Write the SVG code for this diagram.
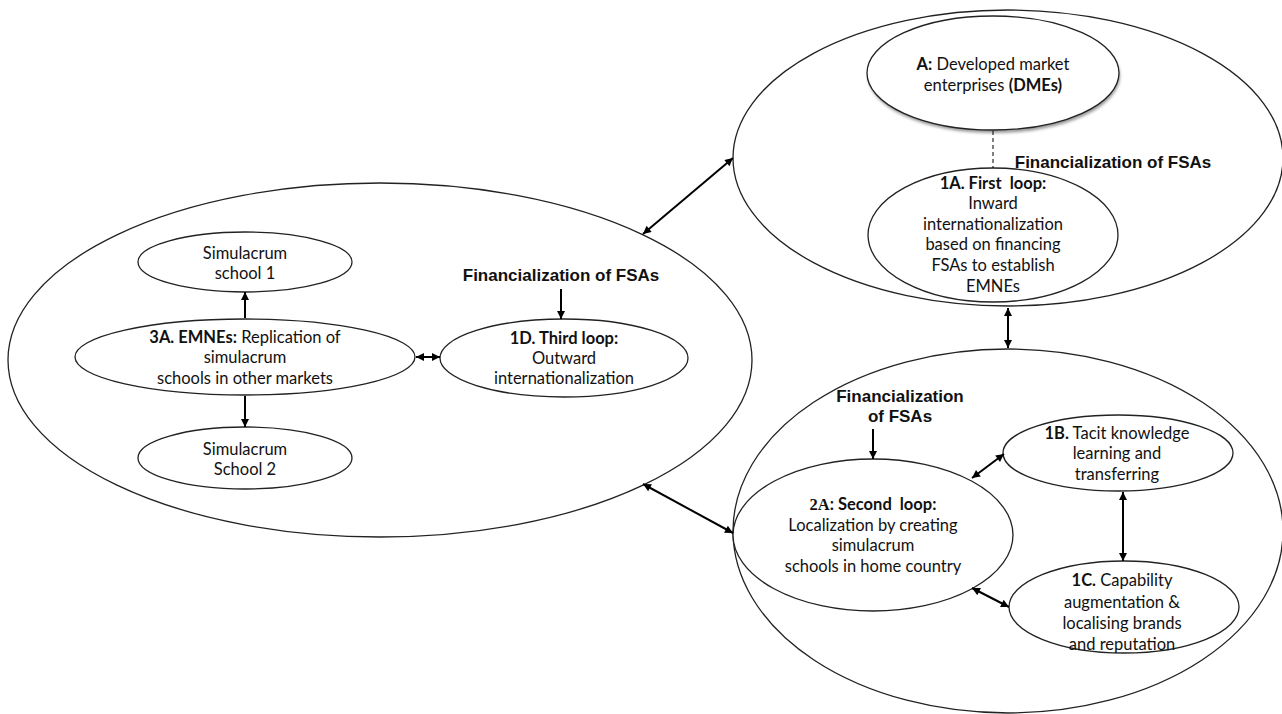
<svg xmlns="http://www.w3.org/2000/svg" width="1282" height="714" viewBox="0 0 1282 714">
<defs>
<marker id="ah" viewBox="0 0 10 10" refX="10" refY="5" markerWidth="9" markerHeight="8" markerUnits="userSpaceOnUse" orient="auto-start-reverse">
<path d="M0,0 L10,5 L0,10 z" fill="#000"/>
</marker>
<filter id="sh" x="-20%" y="-20%" width="140%" height="150%">
<feGaussianBlur stdDeviation="1.5"/>
</filter>
</defs>
<style>
.big{fill:none;stroke:#222;stroke-width:1.3}
.nd{fill:#fff;stroke:#222;stroke-width:1.3}
.t{font-family:Lato,"Open Sans","Liberation Sans",sans-serif;font-size:16.5px;fill:#111;text-anchor:middle}
.b{font-weight:bold}
.fin{font-family:"Liberation Sans",Arial,sans-serif;font-weight:bold;font-size:17px;fill:#111;text-anchor:middle}
.c{stroke:#000;stroke-width:2;fill:none}
.ca{stroke:#000;stroke-width:2;fill:none;marker-end:url(#ah)}
.cb{stroke:#000;stroke-width:2;fill:none;marker-end:url(#ah);marker-start:url(#ah)}
</style>
<rect width="1282" height="714" fill="#fff"/>

<g id="region-left">
<ellipse class="big" cx="380" cy="360" rx="372" ry="177"/>
</g>
<g id="region-top">
<ellipse class="big" cx="1008" cy="158" rx="275" ry="148"/>
<text class="fin" x="1113" y="168">Financialization of FSAs</text>
</g>
<g id="region-bottom">
<ellipse class="big" cx="1008" cy="531" rx="275" ry="182"/>
<text class="fin" x="900" y="402">Financialization</text>
<text class="fin" x="900" y="422">of FSAs</text>
</g>
<g id="label-left-fin">
<text class="fin" x="561" y="281">Financialization of FSAs</text>
</g>

<g id="node-A">
<ellipse cx="994" cy="76" rx="126" ry="57" fill="#999" filter="url(#sh)"/>
<ellipse class="nd" cx="993" cy="73" rx="126" ry="57"/>
<text class="t" x="993" y="70"><tspan class="b">A:</tspan>  Developed market</text>
<text class="t" x="993" y="91">enterprises <tspan class="b">(DMEs)</tspan></text>
</g>

<g id="node-1A">
<ellipse class="nd" cx="993" cy="235" rx="125" ry="67"/>
<text class="t b" x="993" y="189" style="white-space:pre">1A. First  loop:</text>
<text class="t" x="993" y="209">Inward</text>
<text class="t" x="993" y="230">internationalization</text>
<text class="t" x="993" y="250">based on financing</text>
<text class="t" x="993" y="271">FSAs to establish</text>
<text class="t" x="993" y="292">EMNEs</text>
</g>

<g id="node-2A">
<ellipse class="nd" cx="873" cy="535" rx="140" ry="76"/>
<text class="t" x="873" y="510" style="white-space:pre"><tspan class="b" style="font-family:'Liberation Serif',serif">2A</tspan><tspan class="b">: Second  loop:</tspan></text>
<text class="t" x="873" y="531">Localization by creating</text>
<text class="t" x="873" y="551">simulacrum</text>
<text class="t" x="873" y="572">schools in home country</text>
</g>

<g id="node-1B">
<ellipse class="nd" cx="1118" cy="453" rx="115" ry="38"/>
<text class="t" x="1117" y="439"><tspan class="b">1B.</tspan> Tacit knowledge</text>
<text class="t" x="1117" y="459">learning and</text>
<text class="t" x="1117" y="480">transferring</text>
</g>

<g id="node-1C">
<ellipse class="nd" cx="1124" cy="607" rx="115" ry="46"/>
<text class="t" x="1122" y="586"><tspan class="b">1C.</tspan> Capability</text>
<text class="t" x="1122" y="608">augmentation &amp;</text>
<text class="t" x="1122" y="629">localising brands</text>
<text class="t" x="1122" y="650">and reputation</text>
</g>

<g id="node-S1">
<ellipse class="nd" cx="245" cy="262" rx="107" ry="30"/>
<text class="t" x="245" y="259">Simulacrum</text>
<text class="t" x="245" y="279">school 1</text>
</g>

<g id="node-3A">
<ellipse class="nd" cx="245" cy="357" rx="170" ry="38"/>
<text class="t" x="245" y="343"><tspan class="b">3A. EMNEs:</tspan> Replication of</text>
<text class="t" x="245" y="363">simulacrum</text>
<text class="t" x="245" y="384">schools in other markets</text>
</g>

<g id="node-S2">
<ellipse class="nd" cx="245" cy="458" rx="107" ry="31"/>
<text class="t" x="245" y="455">Simulacrum</text>
<text class="t" x="245" y="475">School 2</text>
</g>

<g id="node-1D">
<ellipse class="nd" cx="564" cy="358" rx="124" ry="39"/>
<text class="t b" x="564" y="344">1D. Third loop:</text>
<text class="t" x="564" y="364">Outward</text>
<text class="t" x="564" y="384">internationalization</text>
</g>

<g id="connectors">
<line x1="993" y1="131" x2="993" y2="168" stroke="#000" stroke-width="1" stroke-dasharray="4,3"/>
<line class="cb" x1="643" y1="234" x2="733" y2="158"/>
<line class="cb" x1="643" y1="484" x2="733" y2="533"/>
<line class="cb" x1="1008" y1="308" x2="1008" y2="348"/>
<line class="ca" x1="561" y1="289" x2="561" y2="319"/>
<line class="ca" x1="873" y1="429" x2="873" y2="459"/>
<line class="cb" x1="416" y1="357" x2="440" y2="357"/>
<line class="ca" x1="245" y1="318" x2="245" y2="292"/>
<line class="ca" x1="245" y1="396" x2="245" y2="427"/>
<line class="cb" x1="972" y1="478" x2="1004" y2="454"/>
<line class="cb" x1="1123" y1="492" x2="1123" y2="561"/>
<line class="cb" x1="972" y1="588" x2="1009" y2="607"/>
</g>
</svg>
